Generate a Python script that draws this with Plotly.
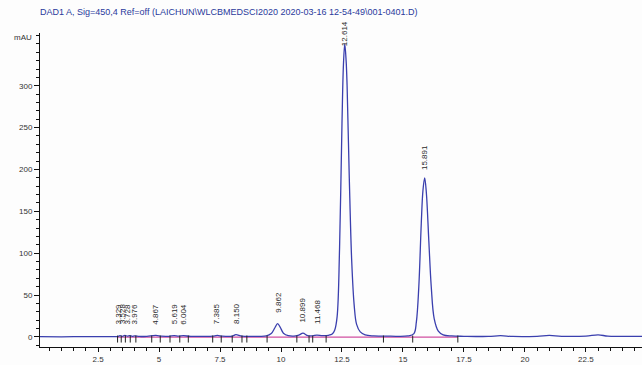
import plotly.graph_objects as go

# ---- data ----
title_text = "DAD1 A, Sig=450,4 Ref=off (LAICHUN\\WLCBMEDSCI2020 2020-03-16 12-54-49\\001-0401.D)"

time_min = [0.0, 1.0, 2.0, 3.0, 3.3, 3.4, 3.5, 3.6, 3.7, 3.8, 3.9, 4.0, 4.2, 4.5,
            4.87, 5.1, 5.4, 5.62, 5.8, 6.0, 6.3, 7.0, 7.2, 7.39, 7.6, 8.0, 8.15, 8.4,
            9.0, 9.4, 9.6, 9.75, 9.86, 9.97, 10.1, 10.3, 10.6, 10.75, 10.9, 11.1,
            11.3, 11.47, 11.7, 11.95, 12.1, 12.2, 12.3, 12.4, 12.5, 12.56, 12.614,
            12.67, 12.71, 12.8, 12.9, 13.0, 13.1, 13.25, 13.45, 13.8, 14.5, 15.2,
            15.45, 15.55, 15.65, 15.75, 15.82, 15.891, 15.96, 16.06, 16.16, 16.28,
            16.45, 16.65, 17.0, 17.5, 18.5, 19.0, 19.5, 20.5, 21.0, 21.5, 22.5,
            23.0, 23.4, 24.0, 25.0]
absorbance_mau = [0.3, 0.2, 0.4, 0.3, 0.5, 1.5, 0.8, 1.8, 1.0, 1.6, 0.8, 1.2, 0.6, 0.8,
                  1.8, 0.9, 0.8, 1.6, 1.0, 1.5, 0.7, 0.8, 0.9, 1.8, 0.9, 0.9, 2.8, 1.0,
                  0.8, 1.2, 4.0, 11.0, 16.0, 11.5, 4.5, 1.5, 1.2, 2.5, 4.5, 1.5,
                  1.4, 2.2, 1.5, 2.0, 3.5, 8.0, 24.0, 105.0, 255.0, 325.0, 350.0,
                  330.0, 300.0, 190.0, 90.0, 38.0, 15.0, 6.0, 2.5, 1.2, 0.9, 1.2,
                  4.0, 18.0, 60.0, 135.0, 175.0, 190.0, 172.0, 115.0, 60.0, 22.0,
                  7.0, 2.5, 1.2, 0.8, 0.6, 1.5, 0.6, 0.8, 1.8, 0.8, 1.0,
                  2.5, 1.0, 0.8, 0.8]

peak_rt = [3.329, 3.528, 3.728, 3.976, 4.867, 5.619, 6.004, 7.385, 8.150,
           9.862, 10.899, 11.468, 12.614, 15.891]
peak_height = [1.5, 1.8, 1.0, 1.2, 1.8, 1.6, 1.5, 1.8, 2.8,
               16.0, 4.5, 2.2, 350.0, 190.0]

baseline_start = [3.30]
baseline_end = [17.25]
integration_marks = [3.30, 3.45, 3.62, 3.82, 4.05, 4.70, 5.05, 5.45, 5.85, 6.20,
                     7.20, 7.55, 8.00, 8.40, 8.60, 9.43, 10.65, 11.15, 11.30, 11.85,
                     14.20, 15.40, 17.25]

x_tickvals = [2.5, 5, 7.5, 10, 12.5, 15, 17.5, 20, 22.5]
x_ticktext = ["2.5", "5", "7.5", "10", "12.5", "15", "17.5", "20", "22.5"]
y_tickvals = [0, 50, 100, 150, 200, 250, 300]

# ---- figure ----
FONT = "Liberation Sans, Arial, sans-serif"
fig = go.Figure()

fig.add_trace(go.Scatter(
    x=[baseline_start[0], baseline_end[0]], y=[-0.3, -0.3], mode="lines",
    line=dict(color="#d04fa0", width=1.2), hoverinfo="skip", showlegend=False))

fig.add_trace(go.Scatter(
    x=time_min, y=absorbance_mau, mode="lines", line_shape="spline",
    line=dict(color="#3a3fae", width=1.3), showlegend=False))

fig.add_trace(go.Scatter(
    x=integration_marks, y=[-2.5] * len(integration_marks), mode="markers",
    marker=dict(symbol="line-ns", size=5, line=dict(color="#222222", width=1)),
    hoverinfo="skip", showlegend=False))

for rt, h in zip(peak_rt, peak_height):
    shift = -4 if h > 300 else (6 if h > 100 else 9)
    fig.add_annotation(
        x=rt, y=h, text=f"{rt:.3f}", textangle=-90, showarrow=False,
        xanchor="center", yanchor="bottom", yshift=shift,
        font=dict(family=FONT, size=8, color="#2a2a2a"))

fig.add_annotation(
    xref="paper", yref="paper", x=0, y=0.985, xanchor="right", yanchor="middle",
    xshift=-6, text="mAU", showarrow=False,
    font=dict(family=FONT, size=8, color="#333333"))

fig.update_layout(
    width=642, height=365,
    margin=dict(l=40, r=0, t=33, b=18),
    paper_bgcolor="#fdfdfd", plot_bgcolor="#fdfdfd",
    title=dict(text=title_text, x=0, xref="paper", xanchor="left",
               y=0.975, yref="container", yanchor="top",
               font=dict(family=FONT, size=9, color="#2a3a9c")),
    xaxis=dict(range=[0.12, 24.8], tickvals=x_tickvals, ticktext=x_ticktext,
               automargin=False,
               showgrid=False, zeroline=False, showline=True, linecolor="#111111",
               linewidth=1, ticks="outside", ticklen=4, tickcolor="#111111",
               minor=dict(dtick=0.5, tick0=0, ticks="outside", ticklen=3,
                          tickcolor="#111111", showgrid=False),
               tickfont=dict(family=FONT, size=8, color="#333333")),
    yaxis=dict(range=[-12, 363], tickvals=y_tickvals, automargin=False,
               showgrid=False, zeroline=False, showline=True, linecolor="#111111",
               linewidth=1, ticks="outside", ticklen=5, tickcolor="#111111",
               minor=dict(dtick=10, tick0=0, ticks="outside", ticklen=3,
                          tickcolor="#111111", showgrid=False),
               tickfont=dict(family=FONT, size=8, color="#333333")),
)

fig.write_html("out.html",
               config={"displayModeBar": False},
               post_script="document.body.style.margin='0';"
                           "document.body.style.overflow='hidden';")
